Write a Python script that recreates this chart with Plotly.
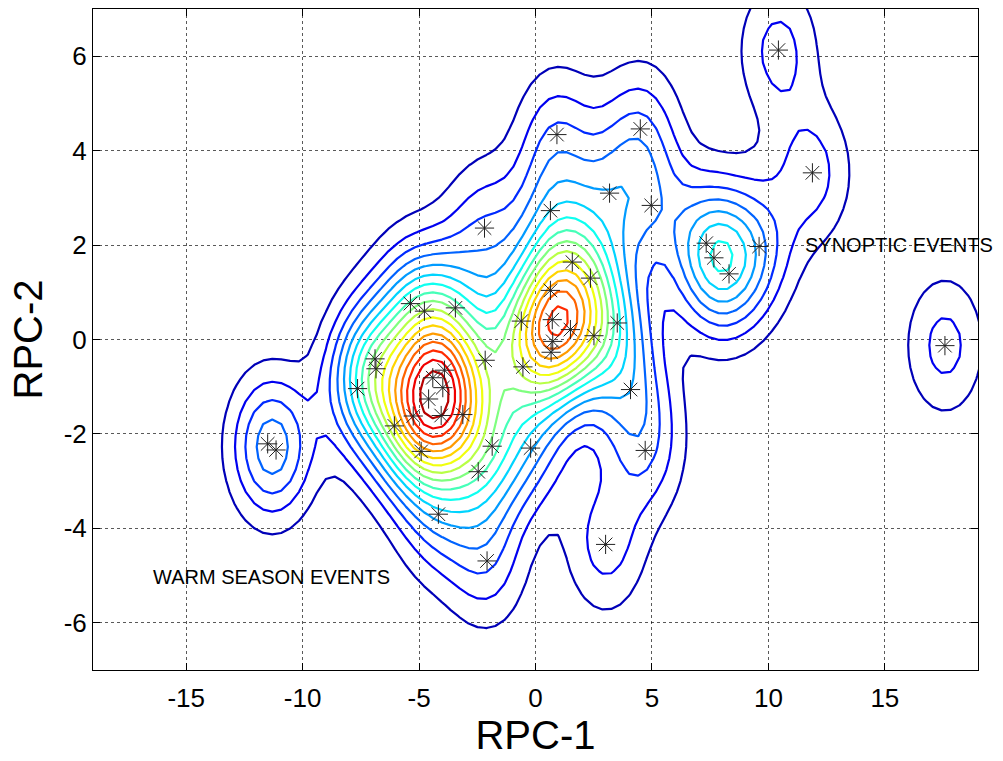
import numpy as np
import plotly.graph_objects as go

# Event scores on the two rotated principal components
rpc1 = [10.43, 11.89, 0.92, 4.50, 3.18, 4.97, 0.64, 7.33, 7.66, 8.31,
        9.60, 1.58, 2.36, 0.64, -2.19, -3.44, -0.61, 0.72, 1.50, 3.51,
        2.51, 0.74, 0.67, -2.16, -0.54, -3.91, -5.37, -4.77, -6.89, -6.85,
        -7.64, -4.41, -3.98, -4.59, -5.25, -4.05, -3.12, -6.06, -4.91, -1.86,
        -2.46, -11.50, -11.14, 4.08, -0.21, 4.71, -4.17, -2.08, 3.01, 17.58]
rpc2 = [6.13, 3.53, 4.34, 4.46, 3.10, 2.84, 2.73, 2.04, 1.73, 1.39,
        1.97, 1.64, 1.30, 1.04, 2.36, 0.67, 0.39, 0.42, 0.21, 0.35,
        0.08, -0.04, -0.27, -0.44, -0.58, -0.65, 0.76, 0.60, -0.41, -0.62,
        -1.04, -0.81, -1.02, -1.26, -1.62, -1.61, -1.59, -1.83, -2.37, -2.26,
        -2.80, -2.21, -2.34, -1.06, -2.30, -2.35, -3.70, -4.69, -4.34, -0.13]

x_ticks = [-15, -10, -5, 0, 5, 10, 15]
x_tick_text = ["-15", "-10", "-5", "0", "5", "10", "15"]
y_ticks = [-6, -4, -2, 0, 2, 4, 6]
y_tick_text = ["-6", "-4", "-2", "0", "2", "4", "6"]
labels = ["SYNOPTIC EVENTS", "WARM SEASON EVENTS"]
label_x = [11.47, -16.5]
label_y = [2.01, -5.02]

n_levels = 17
bw_x, bw_y = 1.2, 1.05

# kernel density estimate of the event scores
px = np.array(rpc1)
py = np.array(rpc2)
gx = np.linspace(-20.5, 20.5, 108)
gy = np.linspace(-8.5, 8.5, 72)
GX, GY = np.meshgrid(gx, gy)
Z = np.zeros_like(GX)
for a, b in zip(px, py):
    Z += np.exp(-0.5 * (((GX - a) / bw_x) ** 2 + ((GY - b) / bw_y) ** 2))
Z /= (2 * np.pi * bw_x * bw_y * len(px))

zmax = Z.max()
step = zmax / (n_levels + 1)


def jet(v):
    r = min(max(1.5 - abs(4 * v - 3), 0), 1)
    g = min(max(1.5 - abs(4 * v - 2), 0), 1)
    b = min(max(1.5 - abs(4 * v - 1), 0), 1)
    return f"rgb({int(r*255)},{int(g*255)},{int(b*255)})"


cscale = [[i / (n_levels - 1), jet((i + 1) / (n_levels + 1))] for i in range(n_levels)]

FONT = "Liberation Sans, Arial, Helvetica, sans-serif"

fig = go.Figure()
fig.add_trace(go.Contour(
    x=gx, y=gy, z=Z,
    contours=dict(start=step, end=step * n_levels, size=step, coloring="lines"),
    colorscale=cscale, showscale=False, line=dict(width=2.2, smoothing=0),
    hoverinfo="skip",
))
fig.add_trace(go.Scatter(
    x=rpc1, y=rpc2, mode="markers",
    marker=dict(symbol="asterisk-open", size=16, color="#222",
                line=dict(color="#222", width=1)),
    showlegend=False,
))
for t, xx, yy in zip(labels, label_x, label_y):
    fig.add_annotation(x=xx, y=yy, text=t, showarrow=False, xanchor="left",
                       yanchor="middle", font=dict(size=20, color="black", family=FONT))

axis_common = dict(
    showline=True, linecolor="black", linewidth=1, mirror="ticks",
    ticks="inside", ticklen=7, tickcolor="black",
    showgrid=True, gridcolor="rgba(0,0,0,0.65)", griddash="dot", gridwidth=1,
    zeroline=False, tickfont=dict(size=26, color="black", family=FONT),
)
fig.update_xaxes(range=[-19, 19], tickvals=x_ticks, ticktext=x_tick_text,
                 ticklabelstandoff=5,
                 title=dict(text="RPC-1", font=dict(size=40, family=FONT), standoff=6),
                 **axis_common)
fig.update_yaxes(range=[-7, 7], tickvals=y_ticks, ticktext=y_tick_text,
                 title=dict(text="RPC-2", font=dict(size=40, family=FONT), standoff=8),
                 **axis_common)
fig.update_layout(
    width=1003, height=761,
    margin=dict(l=93, r=25, t=9, b=91),
    plot_bgcolor="white", paper_bgcolor="white",
    font=dict(family=FONT, color="black"),
    showlegend=False,
)
fig.write_html("out.html")
